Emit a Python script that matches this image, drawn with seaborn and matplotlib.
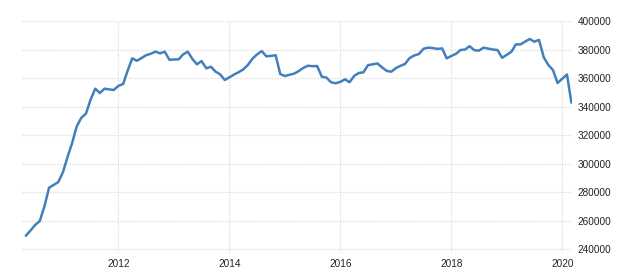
import matplotlib
matplotlib.use("Agg")
import matplotlib.pyplot as plt
import seaborn as sns
import pandas as pd

dates = pd.date_range("2010-05-01", "2020-03-01", freq="MS")
values = [
    249300, 253000, 256800, 259600, 270000, 283000, 285000, 287000,
    294000, 305000, 314000, 326000, 332000, 335000, 344600, 352500, 349500, 352500, 352000, 351600,
    354500, 355800, 365000, 373800, 372100, 374000, 376000, 377000, 378500, 377300, 378500, 372800,
    373000, 373100, 376500, 378500, 373500, 369600, 371900, 366800, 367900, 364500, 362500, 358600,
    360500, 362500, 364000, 366000, 369000, 373500, 376500, 378900, 375200, 375500, 376000, 362800,
    361400, 362300, 363000, 364800, 367000, 368600, 368300, 368400, 360900, 360300, 357000, 356300,
    357300, 359100, 357000, 361500, 363500, 364000, 369000, 369600, 370200, 367500, 365000, 364400,
    367000, 368600, 369800, 374000, 375800, 376800, 380500, 381300, 381000, 380400, 380800, 373800,
    375500, 377000, 379600, 380000, 382300, 379500, 379200, 381300, 380600, 380000, 379600, 374200,
    376300, 378500, 383600, 383600, 385500, 387400, 385500, 386700, 374500, 369200, 365500, 356500,
    359500, 362500, 342700,
]
y_ticks = [240000, 260000, 280000, 300000, 320000, 340000, 360000, 380000, 400000]
x_tick_years = [2012, 2014, 2016, 2018, 2020]

df = pd.DataFrame({"date": dates, "value": values})

sns.set_theme(style="white")
plt.rcParams["font.family"] = ["Liberation Sans", "DejaVu Sans"]

fig = plt.figure(figsize=(6.17, 2.73), dpi=100)
ax = fig.add_axes([22 / 617, 1 - 253 / 273, (572 - 22) / 617, (253 - 21) / 273])

sns.lineplot(data=df, x="date", y="value", ax=ax, color="#4280bd", linewidth=1.8)

ax.set_ylim(237200, 400000)
ax.set_xlim(pd.Timestamp("2010-04-06"), pd.Timestamp("2020-03-05"))
ax.set_yticks(y_ticks)
ax.set_yticklabels([str(v) for v in y_ticks])
ax.set_xticks([pd.Timestamp(f"{y}-01-01") for y in x_tick_years])
ax.set_xticklabels([str(y) for y in x_tick_years])
ax.yaxis.tick_right()
ax.set_xlabel("")
ax.set_ylabel("")
for s in ax.spines.values():
    s.set_visible(False)
ax.grid(True, color="#dedede", linestyle=(0, (1, 1)), linewidth=0.9)
ax.tick_params(axis="both", length=0, labelsize=7.2, colors="#222222")
ax.tick_params(axis="y", pad=4)
ax.tick_params(axis="x", pad=4)

fig.savefig("out.png", dpi=100)
